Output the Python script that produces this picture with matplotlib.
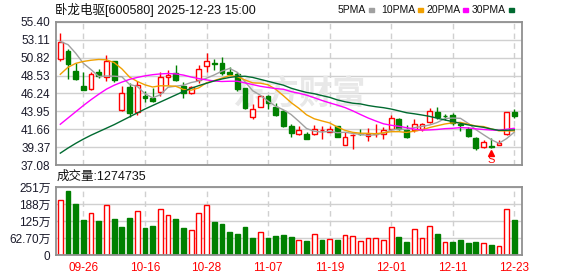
import matplotlib
matplotlib.use("Agg")
import matplotlib.pyplot as plt
from matplotlib.patches import Rectangle
import numpy as np
import pandas as pd

plt.rcParams["font.family"] = ["Liberation Sans", "Noto Sans CJK SC", "DejaVu Sans"]

# ---- data (卧龙电驱 600580, daily) ----
dates = [
    "09-23", "09-24", "09-25", "09-26", "09-29", "09-30", "10-09", "10-10", "10-13", "10-14",
    "10-15", "10-16", "10-17", "10-20", "10-21", "10-22", "10-23", "10-24", "10-27", "10-28",
    "10-29", "10-30", "10-31", "11-03", "11-04", "11-05", "11-06", "11-07", "11-10", "11-11",
    "11-12", "11-13", "11-14", "11-17", "11-18", "11-19", "11-20", "11-21", "11-24", "11-25",
    "11-26", "11-27", "11-28", "12-01", "12-02", "12-03", "12-04", "12-05", "12-08", "12-09",
    "12-10", "12-11", "12-12", "12-15", "12-16", "12-17", "12-18", "12-19", "12-22", "12-23",
]
opens = [
    50.72, 51.66, 49.11, 47.23, 46.77, 48.98, 48.30, 50.38, 44.13, 47.02,
    43.92, 45.92, 45.66, 46.38, 48.38, 48.81, 47.19, 46.34, 47.96, 49.74,
    50.15, 50.21, 49.05, 48.70, 46.89, 43.19, 44.56, 45.92, 44.47, 44.05,
    42.09, 41.03, 41.03, 41.03, 41.52, 41.37, 42.09, 39.62, 40.88, 41.03,
    40.85, 41.04, 41.03, 41.66, 42.98, 41.58, 41.58, 41.71, 42.56, 43.92,
    43.35, 43.50, 42.30, 41.71, 40.60, 39.33, 39.52, 39.62, 41.03, 43.84,
]
highs = [
    53.95, 52.00, 50.10, 49.02, 49.02, 49.32, 51.19, 50.42, 47.19, 47.60,
    47.90, 46.60, 46.90, 49.05, 49.28, 49.87, 47.74, 47.19, 49.87, 51.49,
    50.60, 50.88, 49.60, 49.02, 46.95, 44.90, 46.04, 46.00, 44.98, 44.10,
    42.34, 42.09, 41.28, 42.22, 42.13, 42.09, 42.12, 41.28, 41.05, 41.65,
    41.80, 42.34, 41.92, 43.49, 43.10, 42.22, 42.98, 42.43, 44.34, 44.47,
    43.55, 43.70, 42.45, 41.90, 40.73, 40.30, 40.60, 40.25, 43.86, 44.22,
]
lows = [
    50.45, 48.04, 47.95, 46.72, 46.68, 48.17, 47.90, 47.70, 44.00, 43.18,
    43.45, 45.19, 45.15, 45.90, 47.30, 47.90, 45.70, 46.13, 47.53, 49.02,
    49.24, 48.60, 48.55, 46.60, 44.22, 42.98, 44.47, 44.30, 43.41, 41.92,
    40.73, 40.86, 40.35, 40.94, 40.43, 41.28, 40.62, 39.58, 39.10, 40.95,
    40.10, 40.73, 40.47, 41.58, 41.55, 40.52, 41.28, 41.45, 42.43, 42.98,
    42.90, 42.25, 41.40, 40.73, 39.03, 39.24, 39.30, 39.58, 40.94, 43.05,
]
closes = [
    52.88, 50.08, 48.09, 46.72, 48.72, 48.47, 50.42, 47.96, 46.34, 43.79,
    47.28, 45.70, 45.32, 48.30, 48.60, 47.96, 46.34, 47.02, 49.32, 50.34,
    50.05, 48.81, 48.75, 46.81, 44.34, 44.26, 45.92, 44.98, 43.49, 42.09,
    41.24, 41.58, 40.39, 41.71, 41.60, 41.71, 40.64, 40.73, 40.95, 41.00,
    41.05, 41.10, 41.58, 43.07, 41.66, 40.73, 42.30, 42.35, 44.00, 43.28,
    43.32, 42.50, 42.20, 40.81, 39.24, 40.05, 39.33, 39.86, 43.84, 43.39,
]
# volume, 万手
volumes = [
    202, 235, 188, 129, 154, 125, 186, 133, 104, 136,
    164, 100, 107, 168, 146, 133, 100, 91, 154, 183,
    122, 115, 85, 78, 104, 63, 84, 63, 71, 74,
    67, 55, 52, 77, 56, 60, 56, 73, 69, 51,
    62, 62, 55, 102, 67, 49, 96, 62, 106, 78,
    48, 49, 56, 45, 49, 44, 38, 33, 168, 127.47,
]
# moving averages at the left edge (their earlier closes are off the chart)
ma_head = {
    5: [52.9, 52.5, 51.4, 50.1],
    10: [48.7, 49.6, 50.1, 50.35, 50.5, 50.6, 50.55, 50.2, 49.4],
    20: [42.30, 43.10, 43.90, 44.70, 45.45, 46.15, 46.80, 47.30, 47.70, 48.05,
         48.30, 48.50, 48.65, 48.75, 48.80, 48.75, 48.60, 48.35, 48.15],
    30: [38.60, 39.25, 39.85, 40.40, 40.90, 41.35, 41.80, 42.25, 42.75, 43.25,
         43.75, 44.25, 44.70, 45.15, 45.60, 46.05, 46.50, 46.90, 47.25, 47.55,
         47.85, 48.10, 48.30, 48.42, 48.45, 48.30, 48.05, 47.80, 47.55],
}
ma_colors = {5: "#a0a0a0", 10: "#f0a000", 20: "#ff00ff", 30: "#006a30"}

price_ticks = [37.08, 39.37, 41.66, 43.95, 46.24, 48.53, 50.82, 53.11, 55.40]
vol_ticks = [0, 62.75, 125.5, 188.25, 251]
vol_labels = ["0", "62.70万", "125万", "188万", "251万"]

RED = "#ff0000"
GREEN = "#008000"

df = pd.DataFrame({"open": opens, "high": highs, "low": lows,
                   "close": closes, "vol": volumes})
x = np.arange(len(df))
up = df["close"] >= df["open"]
vol_up = df["close"].diff().fillna(df["close"][0] - df["open"][0]) >= 0

fig = plt.figure(figsize=(5.78, 2.76), dpi=100)
ax = fig.add_axes([56 / 578, 1 - 165 / 276, 466 / 578, 143 / 276])
axv = fig.add_axes([56 / 578, 1 - 255 / 276, 466 / 578, 68 / 276])

for a in (ax, axv):
    a.set_xlim(-0.56, 60.0)
    a.set_axisbelow(True)
    for s in a.spines.values():
        s.set_color("#909090")
        s.set_linewidth(1.3)
    a.set_xticks(x[3::8])
    a.grid(axis="y", color="#d0d0d0", linewidth=1, linestyle="-")
    a.grid(axis="x", color="#d0d0d0", linewidth=1, linestyle=(0, (4, 3)))
    a.tick_params(length=0, labelsize=8.5, labelcolor="#1a1a2a", pad=4)

# candles
w = 0.62
ax.vlines(x[up], df["low"][up], df["high"][up], color=RED, linewidth=1, zorder=2)
ax.vlines(x[~up], df["low"][~up], df["high"][~up], color=GREEN, linewidth=1, zorder=2)
body = (df["close"] - df["open"]).abs().clip(lower=0.04)
bottom = df[["open", "close"]].min(axis=1)
ax.bar(x[up], body[up], w, bottom[up], facecolor="white", edgecolor=RED,
       linewidth=1, zorder=2.5)
ax.bar(x[~up], body[~up], w, bottom[~up], facecolor=GREEN, edgecolor=GREEN,
       linewidth=1, zorder=2.5)

# moving averages
for n, head in ma_head.items():
    ma = df["close"].rolling(n).mean().to_numpy()
    ma[: n - 1] = head
    ax.plot(x, ma, color=ma_colors[n], linewidth=1, zorder=3)

ax.set_ylim(37.08, 55.40)
ax.set_yticks(price_ticks)
ax.set_yticklabels([f"{v:.2f}" for v in price_ticks])
ax.tick_params(axis="x", labelbottom=False)

# watermark
ax.text(0.52, 0.49, "东方财富", transform=ax.transAxes, fontsize=24,
        color="#e8e8e8", fontweight="bold", ha="center", va="center",
        family=["Noto Sans CJK SC"], zorder=1)

# sell signal
i_s = 56
ax.plot(i_s, lows[i_s] - 0.72, marker="^", color=RED, markersize=4, zorder=4,
        clip_on=False)
ax.text(i_s, lows[i_s] - 0.95, "S", color=RED, fontsize=8, ha="center",
        va="top", zorder=4, clip_on=False)

# volume
axv.bar(x[vol_up], df["vol"][vol_up], w, facecolor="white", edgecolor=RED,
        linewidth=1, zorder=2)
axv.bar(x[~vol_up], df["vol"][~vol_up], w, facecolor=GREEN, edgecolor=GREEN,
        linewidth=1, zorder=2)
axv.set_ylim(0, 251)
axv.set_yticks(vol_ticks)
axv.set_yticklabels(vol_labels)
axv.set_xticklabels([dates[i] for i in x[3::8]], color=RED)
axv.tick_params(axis="x", pad=5)

# texts
fig.text(55 / 578, 1 - 10 / 276, "卧龙电驱[600580] 2025-12-23 15:00",
         fontsize=9, va="center", ha="left", color="#111111")
fig.text(57 / 578, 1 - 177 / 276, "成交量:1274735", fontsize=9,
         va="center", ha="left", color="#111111")

legend_items = [("5PMA", 5, 338), ("10PMA", 10, 381), ("20PMA", 20, 426),
                ("30PMA", 30, 472)]
for label, n, px in legend_items:
    t = fig.text(px / 578, 1 - 10 / 276, label, fontsize=7.5, va="center",
                 ha="left", color="#111111")
    fig.canvas.draw()
    bb = t.get_window_extent()
    fig.add_artist(Rectangle(((bb.x1 + 3) / 578, 1 - 12 / 276), 5 / 578, 4 / 276,
                             transform=fig.transFigure, color=ma_colors[n]))

fig.savefig("out.png", dpi=100)
